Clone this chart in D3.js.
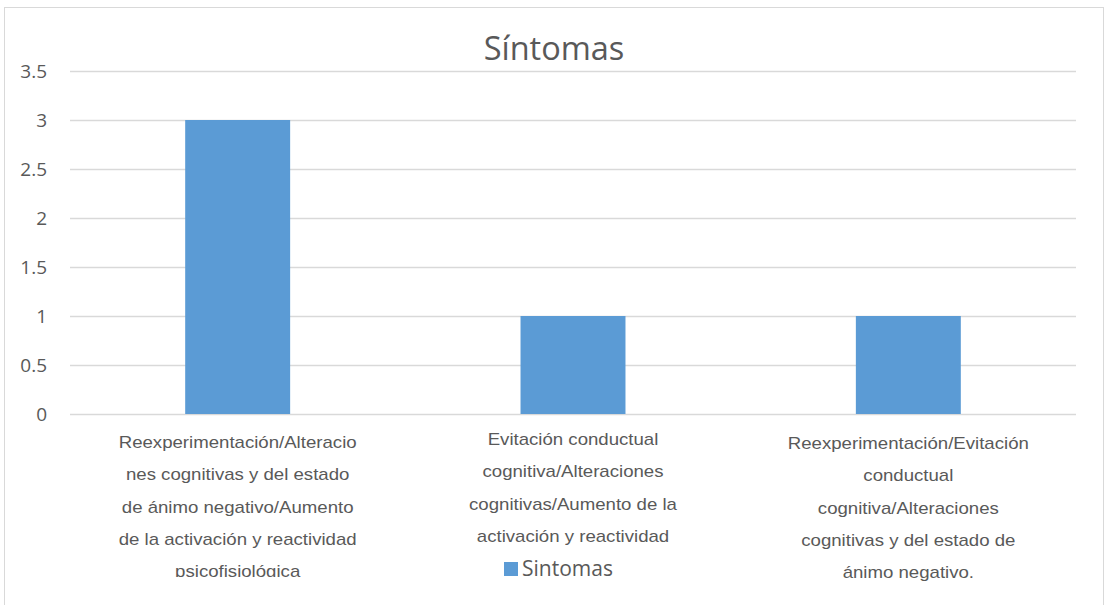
<!DOCTYPE html>
<html>
<head>
<meta charset="utf-8">
<script src="https://cdn.jsdelivr.net/npm/d3@7"></script>
<style>
  html, body { margin: 0; padding: 0; background: #fff; }
  svg { display: block; }
</style>
</head>
<body>
<svg id="chart" width="1109" height="605"></svg>
<script>
const title = "Síntomas";
const seriesName = "Sintomas";
const categories = [
  ["Reexperimentación/Alteracio", "nes cognitivas y del estado", "de ánimo negativo/Aumento", "de la activación y reactividad", "psicofisiológica"],
  ["Evitación conductual", "cognitiva/Alteraciones", "cognitivas/Aumento de la", "activación y reactividad"],
  ["Reexperimentación/Evitación", "conductual", "cognitiva/Alteraciones", "cognitivas y del estado de", "ánimo negativo."]
];
const values = [3, 1, 1];
const yTicks = [0, 0.5, 1, 1.5, 2, 2.5, 3, 3.5];

const svg = d3.select("#chart");
const plot = { left: 70, right: 1076, top: 71, bottom: 414 };

// outer frame
svg.append("rect")
  .attr("x", 4.5).attr("y", 7.5)
  .attr("width", 1099).attr("height", 620)
  .attr("fill", "#fff").attr("stroke", "#d9d9d9").attr("stroke-width", 1);

const x = d3.scaleBand()
  .domain(d3.range(values.length))
  .range([plot.left, plot.right])
  .paddingInner(0.687)
  .paddingOuter(0.3435);

const y = d3.scaleLinear().domain([0, 3.5]).range([plot.bottom, plot.top]);

// gridlines
svg.append("g").selectAll("line").data(yTicks).join("line")
  .attr("x1", plot.left).attr("x2", plot.right)
  .attr("y1", d => Math.round(y(d)) + 0.5).attr("y2", d => Math.round(y(d)) + 0.5)
  .attr("stroke", "#d9d9d9").attr("stroke-width", 1.3);

// y-axis labels
const yAxis = d3.axisLeft(y).tickValues(yTicks).tickSize(0).tickPadding(0)
  .tickFormat(d => String(d));
const gy = svg.append("g").attr("transform", `translate(47,0)`).call(yAxis);
gy.select(".domain").remove();
gy.selectAll("text")
  .attr("font-family", "'Open Sans', sans-serif")
  .attr("font-size", 19).attr("fill", "#595959").attr("dy", "0.35em");

// bars
svg.append("g").selectAll("rect").data(values).join("rect")
  .attr("x", (d, i) => x(i))
  .attr("width", x.bandwidth())
  .attr("y", d => y(d))
  .attr("height", d => y(0) - y(d))
  .attr("fill", "#5b9bd5");

// clip for category labels (first label's last line is cut in the reference)
svg.append("defs").append("clipPath").attr("id", "catclip")
  .append("rect").attr("x", 0).attr("y", 415).attr("width", 1109).attr("height", 162);

// category labels (text is slightly stretched horizontally in the reference)
const lineGap = 32.2;
const catStart = [442.5, 439.5, 443.5];
const cg = svg.append("g");
categories.forEach((lines, i) => {
  const cx = x(i) + x.bandwidth() / 2;
  const wrap = cg.append("g");
  if (i === 0) wrap.attr("clip-path", "url(#catclip)");
  const t = wrap.append("text")
    .attr("transform", `translate(${cx},0) scale(1.15,1)`)
    .attr("text-anchor", "middle")
    .attr("font-family", "'Liberation Sans', Arial, sans-serif")
    .attr("font-size", 16.2).attr("fill", "#595959");
  lines.forEach((ln, j) => {
    t.append("tspan").attr("x", 0).attr("y", catStart[i] + j * lineGap)
      .attr("dy", "0.35em").text(ln);
  });
});

// title
svg.append("text")
  .attr("x", 554).attr("y", 48.5).attr("dy", "0.35em")
  .attr("text-anchor", "middle")
  .attr("font-family", "'Open Sans', sans-serif")
  .attr("font-size", 32.5).attr("fill", "#595959")
  .text(title);

// legend
const lg = svg.append("g");
lg.append("rect").attr("x", 504).attr("y", 562).attr("width", 14).attr("height", 14).attr("fill", "#5b9bd5");
lg.append("text").attr("x", 522).attr("y", 568.5).attr("dy", "0.35em")
  .attr("font-family", "'Open Sans', sans-serif")
  .attr("font-size", 21).attr("fill", "#595959")
  .text(seriesName);
</script>
</body>
</html>
